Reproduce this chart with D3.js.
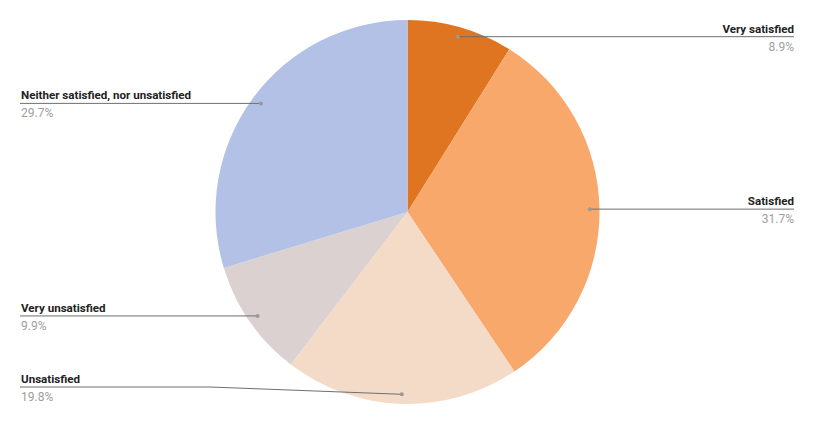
<!DOCTYPE html>
<html>
<head>
<meta charset="utf-8">
<script src="https://cdn.jsdelivr.net/npm/d3@7"></script>
<style>
  body { margin: 0; background: #fff; }
  text { font-family: Roboto, "Noto Sans", sans-serif; }
</style>
</head>
<body>
<script>
// satisfaction survey data
let categories = ["Very satisfied", "Satisfied", "Unsatisfied", "Very unsatisfied", "Neither satisfied, nor unsatisfied"];
let values = [8.9, 31.7, 19.8, 9.9, 29.7];
let colors = ["#df7520", "#f8a86b", "#f3dbc8", "#dbd1d1", "#b3c1e6"];

let width = 815;
let height = 425;
let cx = 407.5, cy = 212, radius = 192;

let svg = d3.select("body").append("svg")
  .attr("width", width).attr("height", height);

let data = categories.map(function(c, i) { return {name: c, value: values[i], color: colors[i]}; });

let pie = d3.pie().sort(null).value(function(d) { return d.value; });
let arcs = pie(data);
let arc = d3.arc().innerRadius(0).outerRadius(radius);
let dotArc = d3.arc().innerRadius(radius * 0.95).outerRadius(radius * 0.95);

let g = svg.append("g").attr("transform", "translate(" + cx + "," + cy + ")");

g.selectAll("path")
  .data(arcs)
  .enter()
  .append("path")
    .attr("d", arc)
    .style("fill", function(d) { return d.data.color; })
    .style("stroke", "none");

// labels with leader lines
let leftX = 20, rightX = 794, maxLineY = height - 38;

arcs.forEach(function(d) {
  let p = dotArc.centroid(d);
  let px = cx + p[0], py = cy + p[1];
  let mid = (d.startAngle + d.endAngle) / 2;
  let right = mid < Math.PI;
  let ly = Math.min(py, maxLineY);
  let ex = right ? rightX : leftX;
  let tx = right ? rightX : leftX + 1;

  let pts;
  if (ly != py) {
    pts = [[ex, ly], [210, ly], [px, py]];
  } else {
    pts = [[ex, ly], [px, py]];
  }
  svg.append("path")
    .attr("d", d3.line()(pts))
    .style("fill", "none")
    .style("stroke", "#6f6f6f")
    .style("stroke-width", 1);

  svg.append("circle")
    .attr("cx", px).attr("cy", py).attr("r", 2)
    .style("fill", "#999");

  svg.append("text")
    .attr("x", tx).attr("y", ly - 4)
    .attr("text-anchor", right ? "end" : "start")
    .style("font-size", "11.6px")
    .style("font-weight", "bold")
    .style("fill", "#222")
    .text(d.data.name);

  svg.append("text")
    .attr("x", tx).attr("y", ly + 14)
    .attr("text-anchor", right ? "end" : "start")
    .style("font-size", "12px")
    .style("fill", "#9e9e9e")
    .text(d.data.value.toFixed(1) + "%");
});
</script>
</body>
</html>
